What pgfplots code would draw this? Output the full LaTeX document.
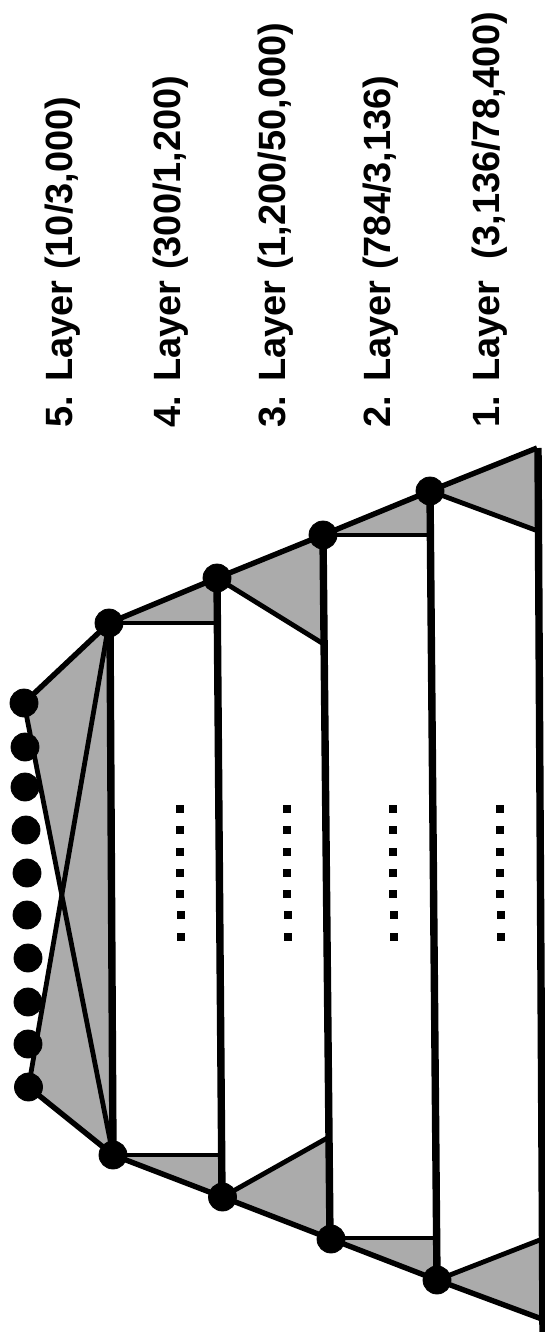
\documentclass[border=0pt]{standalone}
\usepackage{pgfplots}
\pgfplotsset{compat=1.18}
\usepackage{fontspec}
\setmainfont{Liberation Sans}
\begin{document}
\begin{tikzpicture}
\begin{axis}[
  scale only axis, width=272.5pt, height=666pt,
  xmin=0, xmax=545, ymin=0, ymax=1332, y dir=reverse,
  hide axis, clip=true]
\addplot[draw=none, forget plot] coordinates {(0,0) (545,1332)};
% shaded regions
\pgfplotsset{shade/.style={fill=black!33, draw=none, forget plot}}
\addplot[shade] coordinates {(24,703) (109,623) (111,623) (113,1155) (28.5,1087) (61.5,896)} -- cycle;
\addplot[shade] coordinates {(109,623) (217,578) (217,623)} -- cycle;
\addplot[shade] coordinates {(113,1155) (222.5,1197) (222,1155)} -- cycle;
\addplot[shade] coordinates {(217,578) (323,535) (322,643)} -- cycle;
\addplot[shade] coordinates {(222.5,1197) (331,1239) (329,1137)} -- cycle;
\addplot[shade] coordinates {(323,535) (430,491) (430,535)} -- cycle;
\addplot[shade] coordinates {(331,1239) (437,1280) (437,1238)} -- cycle;
\addplot[shade] coordinates {(430,491) (537,448) (538,531)} -- cycle;
\addplot[shade] coordinates {(437,1280) (550,1236) (550,1322)} -- cycle;
% outer edges
\addplot[black, line width=2.7pt, line join=round] coordinates {(24,703) (109,623) (217,578) (323,535) (430,491) (537,448)};
\addplot[black, line width=2.7pt, line join=round] coordinates {(28.5,1087) (113,1155) (222.5,1197) (331,1239) (437,1280) (550,1322)};
% crossing lines
\addplot[black, line width=2.4pt] coordinates {(24,703) (113,1155)};
\addplot[black, line width=2.4pt] coordinates {(109,623) (28.5,1087)};
% vertical layer lines
\addplot[black, line width=3.7pt] coordinates {(110,623) (113,1155)};
\addplot[black, line width=3.7pt] coordinates {(217,578) (222,1197)};
\addplot[black, line width=3.7pt] coordinates {(323,535) (330,1239)};
\addplot[black, line width=3.7pt] coordinates {(430,491) (437,1280)};
\addplot[black, line width=3.7pt] coordinates {(538,448) (543,1335)};
% inner boundary lines
\addplot[black, line width=2.4pt] coordinates {(109,623) (217,623)};
\addplot[black, line width=2.4pt] coordinates {(113,1155) (222,1155)};
\addplot[black, line width=2.4pt] coordinates {(217,578) (322,643)};
\addplot[black, line width=2.4pt] coordinates {(222.5,1197) (329,1137)};
\addplot[black, line width=2.4pt] coordinates {(323,535) (430,535)};
\addplot[black, line width=2.4pt] coordinates {(331,1238) (437,1238)};
\addplot[black, line width=2.4pt] coordinates {(430,491) (538,531)};
\addplot[black, line width=2.4pt] coordinates {(437,1280) (550,1236)};
% nodes
\addplot[only marks, mark=*, mark size=7pt, black] coordinates {
 (109,623) (217,578) (323,535) (430,491)
 (113,1155) (222.5,1197) (331,1239) (437,1280)};
\addplot[only marks, mark=*, mark size=7pt, black] coordinates {
 (24,703) (25,747) (25,787) (26,830) (27,873) (27,915) (28,958) (28,1002) (28,1044) (28.5,1087)};
% ellipsis dots
\addplot[only marks, mark=square*, mark size=1.6pt, black] coordinates {
 (180,809) (180,830) (180,852) (180,873) (180,894) (181,915) (181,937)
 (287,809) (287,830) (287,852) (287,873) (287,894) (288,915) (288,937)
 (393,809) (393,830) (393,852) (393,873) (393,894) (394,915) (394,937)
 (500,809) (500,830) (500,852) (500,873) (500,894) (501,915) (501,937)};
% labels
\tikzset{lab/.style={rotate=90, anchor=base west, inner sep=0pt, font=\bfseries\fontsize{19}{22}\selectfont}}
\node[lab] at (axis cs:72,428) {5. Layer (10/3,000)};
\node[lab] at (axis cs:180,428) {4. Layer (300/1,200)};
\node[lab] at (axis cs:285,428) {3. Layer (1,200/50,000)};
\node[lab] at (axis cs:390,428) {2. Layer (784/3,136)};
\node[lab] at (axis cs:499,428) {1. Layer\ \ (3,136/78,400)};
\end{axis}
\end{tikzpicture}
\end{document}
